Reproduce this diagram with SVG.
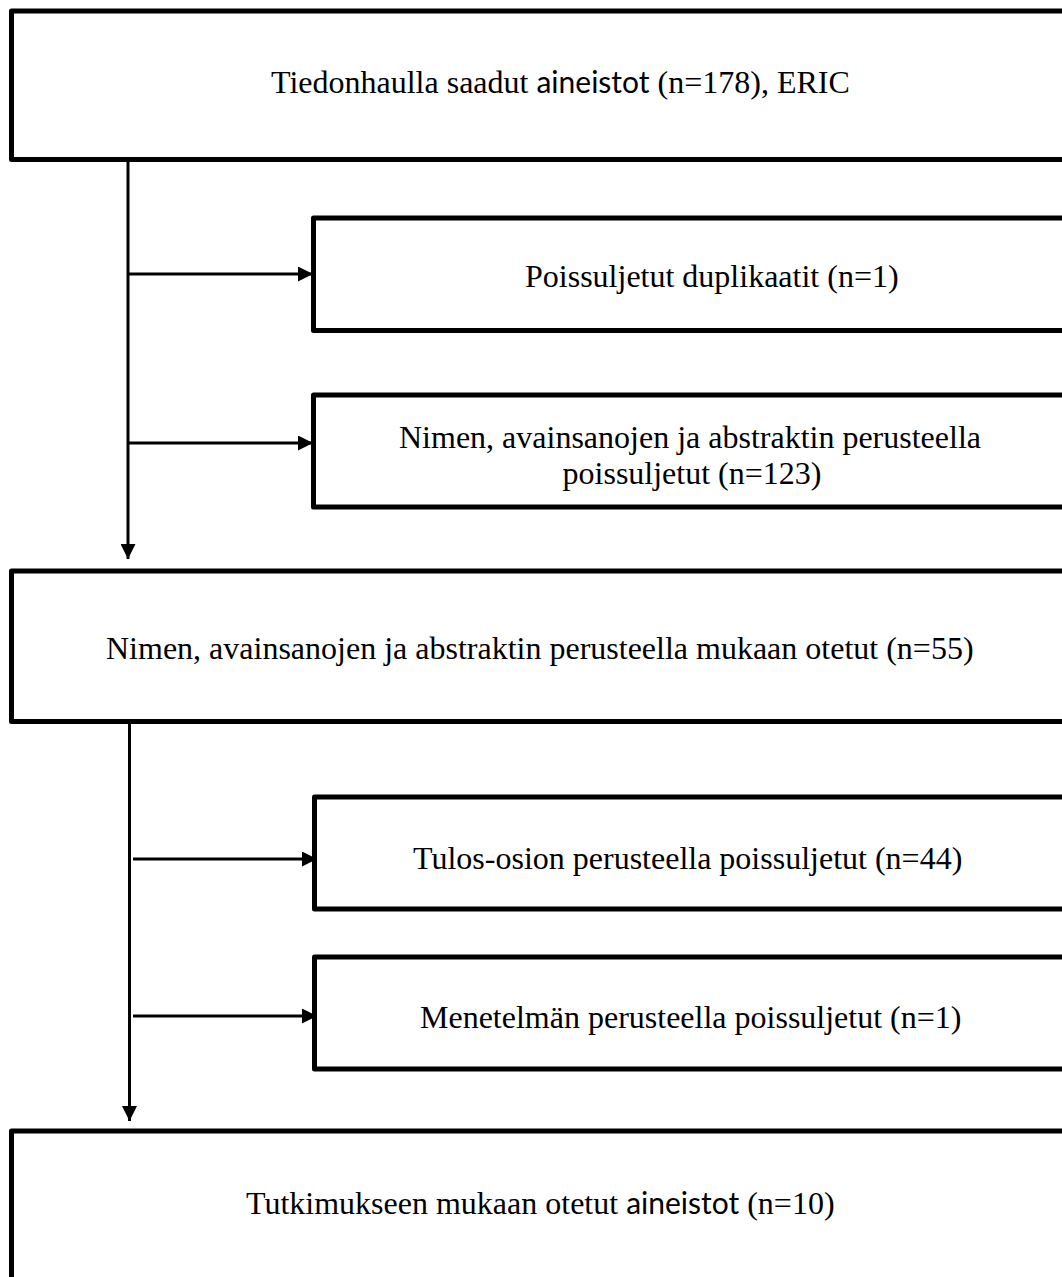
<svg xmlns="http://www.w3.org/2000/svg" width="1062" height="1277" viewBox="0 0 1062 1277">
<style>
.box{fill:#fff;stroke:#000;stroke-width:5;stroke-linejoin:round}
.ln{fill:none;stroke:#000;stroke-width:3}
.t{font-family:"Liberation Serif","Times New Roman",serif;font-size:32px;fill:#000}
.s{font-family:Lato,"Open Sans",sans-serif;font-size:30px}
</style>
<defs>
<marker id="ah" viewBox="0 0 15 15" refX="15" refY="7.5" markerWidth="15" markerHeight="15" markerUnits="userSpaceOnUse" orient="auto">
<path d="M0,0 L15,7.5 L0,15 Z" fill="#000"/>
</marker>
</defs>
<rect width="1062" height="1277" fill="#fff"/>
<g id="connectors">
<line class="ln" x1="128" y1="162" x2="128" y2="559" marker-end="url(#ah)"/>
<line class="ln" x1="128" y1="274" x2="313" y2="274" marker-end="url(#ah)"/>
<line class="ln" x1="128" y1="443" x2="313" y2="443" marker-end="url(#ah)"/>
<line class="ln" x1="129.5" y1="724" x2="129.5" y2="1121" marker-end="url(#ah)"/>
<line class="ln" x1="133" y1="859" x2="317" y2="859" marker-end="url(#ah)"/>
<line class="ln" x1="133" y1="1016" x2="317" y2="1016" marker-end="url(#ah)"/>
</g>
<g id="node1">
<rect class="box" x="11.5" y="11" width="1070" height="148.5"/>
<text class="t" x="271" y="93">Tiedonhaulla saadut <tspan class="s">aineistot</tspan> (n=178), ERIC</text>
</g>
<g id="node2">
<rect class="box" x="313.5" y="218" width="770" height="112.5"/>
<text class="t" x="525" y="287">Poissuljetut duplikaatit (n=1)</text>
</g>
<g id="node3">
<rect class="box" x="313.5" y="395" width="770" height="112"/>
<text class="t" x="690" y="448" text-anchor="middle">Nimen, avainsanojen ja abstraktin perusteella</text>
<text class="t" x="692" y="484" text-anchor="middle">poissuljetut (n=123)</text>
</g>
<g id="node4">
<rect class="box" x="11.5" y="571" width="1070" height="150.5"/>
<text class="t" x="106" y="659">Nimen, avainsanojen ja abstraktin perusteella mukaan otetut (n=55)</text>
</g>
<g id="node5">
<rect class="box" x="314.5" y="797" width="770" height="112"/>
<text class="t" x="413" y="869">Tulos-osion perusteella poissuljetut (n=44)</text>
</g>
<g id="node6">
<rect class="box" x="314.5" y="957" width="770" height="112"/>
<text class="t" x="420" y="1028">Menetelmän perusteella poissuljetut (n=1)</text>
</g>
<g id="node7">
<rect class="box" x="11.5" y="1131" width="1070" height="170"/>
<text class="t" x="246" y="1214">Tutkimukseen mukaan otetut <tspan class="s">aineistot</tspan> (n=10)</text>
</g>
</svg>
